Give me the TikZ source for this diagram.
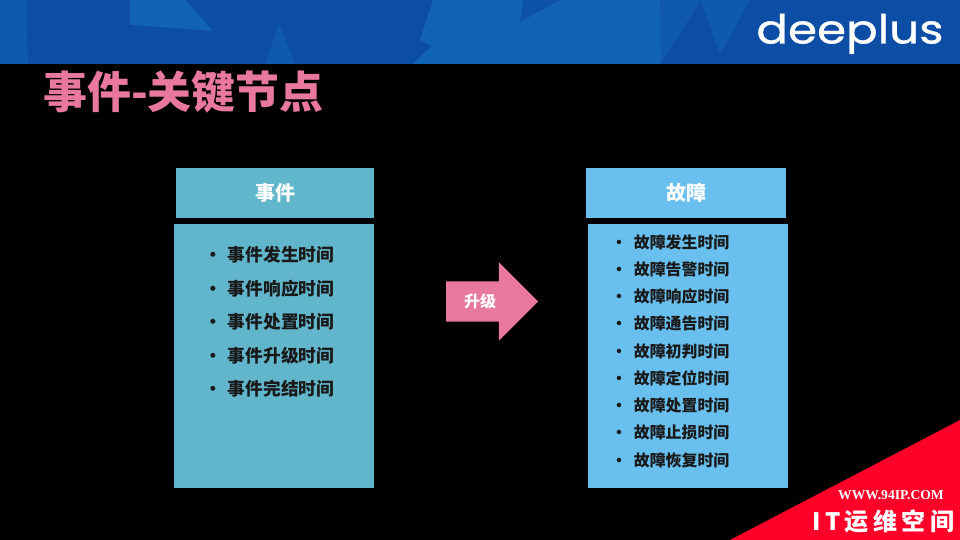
\documentclass[tikz,border=0pt]{standalone}
\usepackage{xcolor}
\usepackage{fontspec}
\setmainfont{Noto Sans CJK SC}
\newfontfamily\logofont[FakeStretch=1.17,FakeBold=0.8]{Poppins}
\newfontfamily\siteserif{Liberation Serif}
\usepackage{tikz}
\usetikzlibrary{shapes.arrows, positioning}
\definecolor{bannerbase}{HTML}{0F59AE}
\definecolor{bannerlight}{HTML}{1163B6}
\definecolor{bannerdark}{HTML}{0C4EA5}
\definecolor{eventblue}{HTML}{62B6CB}
\definecolor{faultblue}{HTML}{69BFEE}
\definecolor{titlepink}{HTML}{E8789C}
\definecolor{cornerred}{HTML}{FF0029}
\tikzstyle{head} = [minimum height=50pt, inner sep=0pt, outer sep=0pt, text=white, font=\fontsize{20pt}{20pt}\selectfont\bfseries]
\tikzstyle{panel} = [minimum height=264pt, inner sep=0pt, outer sep=0pt]
\tikzstyle{eventitem} = [inner sep=0pt, outer sep=0pt, minimum height=33.5pt, text=black!90, font=\fontsize{17.7pt}{20pt}\selectfont\bfseries]
\tikzstyle{faultitem} = [inner sep=0pt, outer sep=0pt, minimum height=27.25pt, text=black!90, font=\fontsize{15.9pt}{18pt}\selectfont\bfseries]

\begin{document}
\begin{tikzpicture}[x=1pt,y=-1pt]
    \useasboundingbox (0,0) rectangle (960,540);
    \fill[black] (0,0) rectangle (960,540);

    % banner
    \fill[bannerbase] (0,0) rectangle (960,64);
    \fill[bannerdark] (26,0) -- (130,0) -- (130,64) -- (28,64) -- cycle;
    \fill[bannerlight] (130,0) -- (186,0) -- (213,31) -- (130,25) -- cycle;
    \fill[bannerdark] (130,25) -- (213,31) -- (186,0) -- (433,0) -- (420,40) -- (432,46) -- (412,64) -- (295,64) -- (279,24) -- (265,64) -- (130,64) -- cycle;
    \fill[bannerlight] (433,0) -- (480,0) -- (480,64) -- (412,64) -- (432,46) -- (420,40) -- cycle;
    \fill[bannerlight] (480,0) -- (660,0) -- (661,64) -- (480,64) -- cycle;
    \fill[bannerdark] (661,64) -- (701,0) -- (720,55) -- (750,0) -- (960,0) -- (960,64) -- cycle;
    \fill[bannerdark!80!bannerlight] (523,0) -- (560,0) -- (520,22) -- cycle;
    \node[text=white, inner sep=0pt, anchor=base, font=\fontsize{40pt}{40pt}\selectfont\logofont] (logo) at (850,43.5) {deeplus};

    \node[anchor=west, inner sep=0pt, text=titlepink, font=\fontsize{43.9pt}{44pt}\selectfont\bfseries] (title) at (43,92) {事件-关键节点};

    % left column
    \node[head, fill=eventblue, minimum width=198pt] (event-head) at (275,193) {事件};
    \node[panel, fill=eventblue, minimum width=200pt] (event-panel) at (274,356) {};
    \node[eventitem, anchor=west] (event-1) at (204,255) {•\hspace{6.3pt}事件发生时间};
    \node[eventitem, below=0pt of event-1.south west, anchor=north west] (event-2) {•\hspace{6.3pt}事件响应时间};
    \node[eventitem, below=0pt of event-2.south west, anchor=north west] (event-3) {•\hspace{6.3pt}事件处置时间};
    \node[eventitem, below=0pt of event-3.south west, anchor=north west] (event-4) {•\hspace{6.3pt}事件升级时间};
    \node[eventitem, below=0pt of event-4.south west, anchor=north west] (event-5) {•\hspace{6.3pt}事件完结时间};

    % right column
    \node[head, fill=faultblue, minimum width=200pt] (fault-head) at (686,193) {故障};
    \node[panel, fill=faultblue, minimum width=200pt] (fault-panel) at (688,356) {};
    \node[faultitem, anchor=west] (fault-1) at (611,242) {•\hspace{7pt}故障发生时间};
    \node[faultitem, below=0pt of fault-1.south west, anchor=north west] (fault-2) {•\hspace{7pt}故障告警时间};
    \node[faultitem, below=0pt of fault-2.south west, anchor=north west] (fault-3) {•\hspace{7pt}故障响应时间};
    \node[faultitem, below=0pt of fault-3.south west, anchor=north west] (fault-4) {•\hspace{7pt}故障通告时间};
    \node[faultitem, below=0pt of fault-4.south west, anchor=north west] (fault-5) {•\hspace{7pt}故障初判时间};
    \node[faultitem, below=0pt of fault-5.south west, anchor=north west] (fault-6) {•\hspace{7pt}故障定位时间};
    \node[faultitem, below=0pt of fault-6.south west, anchor=north west] (fault-7) {•\hspace{7pt}故障处置时间};
    \node[faultitem, below=0pt of fault-7.south west, anchor=north west] (fault-8) {•\hspace{7pt}故障止损时间};
    \node[faultitem, below=0pt of fault-8.south west, anchor=north west] (fault-9) {•\hspace{7pt}故障恢复时间};

    % upgrade arrow
    \node[single arrow, single arrow head extend=19pt, single arrow head indent=0pt, shape border rotate=0, fill=titlepink, inner sep=0pt, outer sep=0pt, text height=20pt, text depth=20pt, minimum width=78pt, minimum height=92pt, anchor=tail] (upgrade) at (446,301.5) {};
    \node[text=white, inner sep=0pt, font=\fontsize{16pt}{16pt}\selectfont\bfseries] (upgrade-label) at (480,301) {升级};

    % corner
    \fill[cornerred] (730,540) -- (960,420) -- (960,540) -- cycle;
    \node[text=white, inner sep=0pt, font=\fontsize{13.6pt}{14pt}\selectfont\siteserif\bfseries] (site) at (891,495) {WWW.94IP.COM};
    \node[text=white, inner sep=0pt, font=\fontsize{24pt}{24pt}\selectfont\bfseries] (corner-label) at (883.5,521) {I\hspace{4pt}T\hspace{4pt}运\hspace{4.5pt}维\hspace{4.5pt}空\hspace{4.5pt}间};
\end{tikzpicture}
\end{document}
